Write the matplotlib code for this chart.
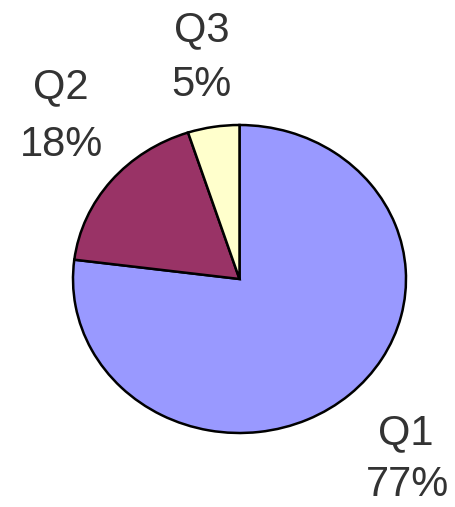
import matplotlib
matplotlib.use("Agg")
import matplotlib.pyplot as plt

# Quarter shares
categories = ["Q1", "Q2", "Q3"]
shares = [77, 18, 5]
colors = ["#9999FF", "#993366", "#FFFFCC"]

W, H = 455, 507
fig = plt.figure(figsize=(W / 100, H / 100), dpi=100)
fig.patch.set_facecolor("white")
ax = fig.add_axes([0, 0, 1, 1])

ax.pie(shares, colors=colors, startangle=90, counterclock=False,
       wedgeprops=dict(edgecolor="black", linewidth=1.8))

# Slightly flattened pie: horizontal radius larger than vertical one
cx, cy, rx, ry = 239.5, 279.0, 166.5, 154.0
ax.set_aspect("auto")
ax.set_xlim(-cx / rx, (W - cx) / rx)
ax.set_ylim((cy - H) / ry, cy / ry)
ax.axis("off")

# Label placement (pixel centre x, baseline y from top)
label_pos = {
    "Q1": ((406, 444), (407, 496)),
    "Q2": ((61, 98), (62, 156)),
    "Q3": ((202, 41), (201, 96)),
}
font = dict(family="Liberation Sans", fontsize=30, color="#333333",
            ha="center", va="baseline")
for cat, val in zip(categories, shares):
    (x1, y1), (x2, y2) = label_pos[cat]
    fig.text(x1 / W, 1 - y1 / H, cat, **font)
    fig.text(x2 / W, 1 - y2 / H, f"{val}%", **font)

fig.savefig("out.png", dpi=100, facecolor="white")
